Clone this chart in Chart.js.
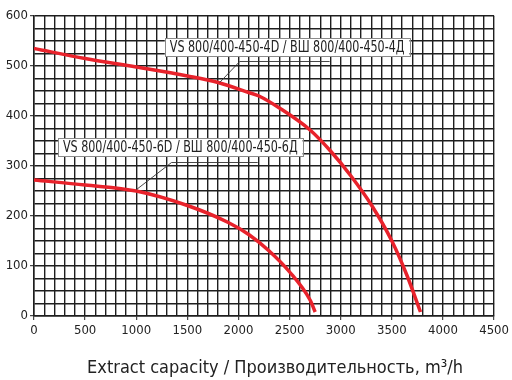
<!DOCTYPE html>
<html>
<head>
<meta charset="utf-8">
<script src="https://cdn.jsdelivr.net/npm/chart.js@4.4.1/dist/chart.umd.min.js"></script>
<style>
html,body{margin:0;padding:0;background:#fff;}
#wrap{width:512px;height:380px;position:relative;}
</style>
</head>
<body>
<div id="wrap"><canvas id="c" width="512" height="380"></canvas></div>
<script>
// ---- data ----
const flow4D = [0, 500, 1000, 1500, 1800, 2100, 2200, 2400, 2700, 2900, 3100, 3300, 3500, 3650, 3780];
const pressure4D = [535, 515, 498, 480, 467, 447, 440, 416, 372, 330, 280, 222, 150, 80, 8];
const flow6D = [0, 500, 1000, 1500, 1900, 2100, 2300, 2500, 2700, 2750];
const pressure6D = [272, 262, 250, 221, 187, 163, 130, 88, 32, 8];
const label4D = "VS 800/400-450-4D / ВШ 800/400-450-4Д";
const label6D = "VS 800/400-450-6D / ВШ 800/400-450-6Д";
const xTitle = "Extract capacity / Производительность, m³/h";
const xMin = 0, xMax = 4500, xMajor = 500, xMinor = 100;
const yMin = 0, yMax = 600, yMajor = 100, yMinor = 25;

const NARROW = "'Liberation Sans Narrow', 'Arial Narrow', 'DejaVu Sans Condensed', Arial, sans-serif";
const RED = '#e8222b';
const GRID = '#1e1e1e';

function pts(xs, ys){ return xs.map((x,i)=>({x:x, y:ys[i]})); }

// callouts in data units: anchor on curve, elbow, end of horizontal leader, label box
const callouts = [
  {text: label4D, anchor:[1816,467], elbow:[2012,509], end:2891, box:[1279,556,3672,520]},
  {text: label6D, anchor:[1003,253], elbow:[1345,307], end:2188, box:[234,356,2627,320]}
];

const calloutPlugin = {
  id:'callouts',
  afterDatasetsDraw(chart){
    const ctx = chart.ctx, xs = chart.scales.x, ys = chart.scales.y;
    ctx.save();
    callouts.forEach(c=>{
      const ax = xs.getPixelForValue(c.anchor[0]), ay = ys.getPixelForValue(c.anchor[1]);
      const ex = xs.getPixelForValue(c.elbow[0]), ey = ys.getPixelForValue(c.elbow[1]);
      const hx = xs.getPixelForValue(c.end);
      ctx.strokeStyle = '#333'; ctx.lineWidth = 0.9;
      ctx.beginPath(); ctx.moveTo(ax,ay); ctx.lineTo(ex,ey); ctx.lineTo(hx,ey); ctx.stroke();
      const bl = xs.getPixelForValue(c.box[0]), bt = ys.getPixelForValue(c.box[1]);
      const br = xs.getPixelForValue(c.box[2]), bb = ys.getPixelForValue(c.box[3]);
      ctx.fillStyle = '#fff';
      ctx.fillRect(bl, bt, br-bl, bb-bt);
      ctx.strokeStyle = '#8a8a8a'; ctx.lineWidth = 1;
      ctx.strokeRect(Math.round(bl)+0.5, Math.round(bt)+0.5, Math.round(br-bl), Math.round(bb-bt));
      ctx.fillStyle = '#222';
      ctx.font = '15px ' + NARROW;
      ctx.textBaseline = 'middle'; ctx.textAlign = 'left';
      const w = ctx.measureText(c.text).width;
      const sx = Math.min(1, (br - bl - 10) / w);
      ctx.save();
      ctx.translate(bl + 5, (bt + bb) / 2 + 1);
      ctx.scale(sx, 1);
      ctx.fillText(c.text, 0, 0);
      ctx.restore();
    });
    // x axis title
    ctx.fillStyle = '#222';
    ctx.font = '18px ' + NARROW;
    ctx.textAlign = 'center'; ctx.textBaseline = 'alphabetic';
    ctx.fillText(xTitle, 275, 373);
    ctx.restore();
  }
};

new Chart(document.getElementById('c'), {
  type:'line',
  data:{
    datasets:[
      {data: pts(flow4D, pressure4D), borderColor: RED, borderWidth: 3.5, pointRadius: 0, cubicInterpolationMode:'monotone', fill:false},
      {data: pts(flow6D, pressure6D), borderColor: RED, borderWidth: 3.5, pointRadius: 0, cubicInterpolationMode:'monotone', fill:false}
    ]
  },
  options:{
    responsive:false,
    animation:false,
    layout:{padding:{top:16, right:17, left:0, bottom:0}},
    plugins:{legend:{display:false}, tooltip:{enabled:false}, title:{display:false}},
    scales:{
      x:{
        type:'linear', min:xMin, max:xMax,
        afterFit(s){ s.height = 64; },
        border:{display:true, color:GRID, width:1.5},
        grid:{color:GRID, lineWidth:1.4, tickLength:4,
          tickColor:(c)=> (c.tick && c.tick.value % xMajor === 0) ? GRID : 'rgba(0,0,0,0)', tickWidth:1},
        ticks:{stepSize:xMinor, autoSkip:false, maxRotation:0, padding:3, color:'#222',
          font:{family:NARROW, size:13},
          callback:(v)=> (v % xMajor === 0) ? String(v) : ''}
      },
      y:{
        type:'linear', min:yMin, max:yMax,
        afterFit(s){ s.width = 34; },
        border:{display:true, color:GRID, width:1.5},
        grid:{color:GRID, lineWidth:1.4, tickLength:4,
          tickColor:(c)=> (c.tick && c.tick.value % yMajor === 0) ? GRID : 'rgba(0,0,0,0)', tickWidth:1},
        ticks:{stepSize:yMinor, autoSkip:false, padding:2, color:'#222',
          font:{family:NARROW, size:13},
          callback:(v)=> (v % yMajor === 0) ? String(v) : ''}
      }
    }
  },
  plugins:[calloutPlugin]
});
</script>
</body>
</html>
